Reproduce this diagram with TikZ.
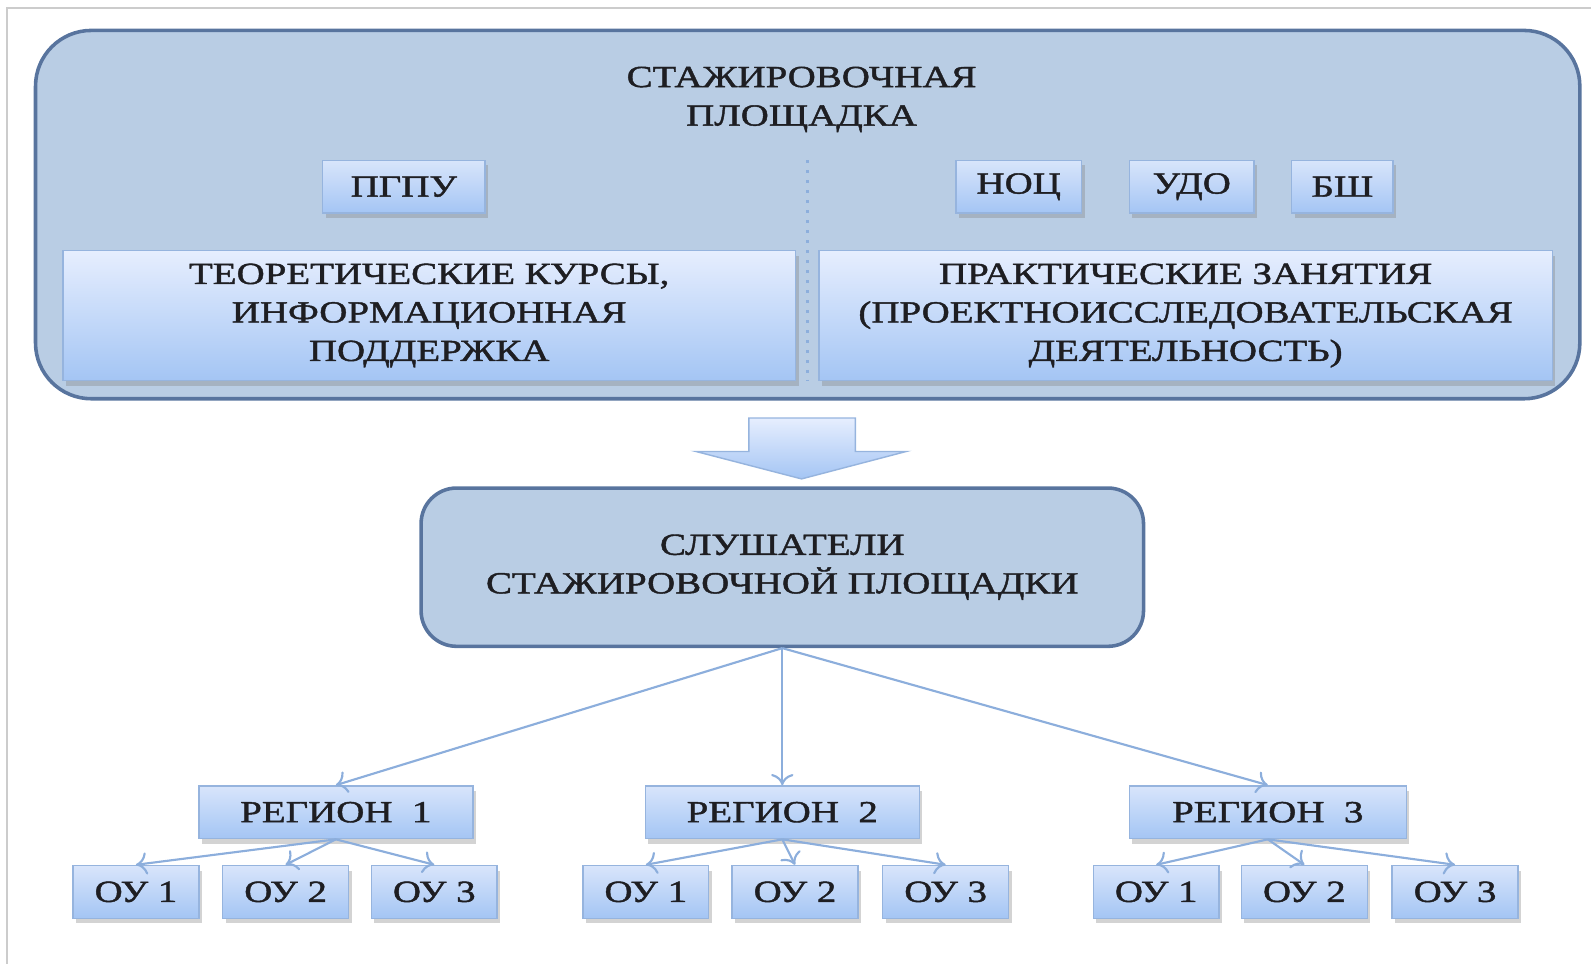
\documentclass[tikz,border=0pt]{standalone}
\usepackage{fontspec}
\setmainfont{Liberation Serif}[FakeStretch=1.27,FakeBold=1.4]
\usetikzlibrary{arrows.meta,shadows}

\begin{document}
\begin{tikzpicture}[x=.1mm,y=-.1mm,
  font=\fontsize{8.6}{10.8}\selectfont,
  smallbox/.style={draw=boxline,line width=.4pt,top color=boxtop,bottom color=boxbot,
    text=ink,minimum height=5.2mm,inner sep=0pt,
    drop shadow={shadow xshift=.3mm,shadow yshift=-.5mm,opacity=.35}},
  bigbox/.style={smallbox,top color=paletop,align=center,minimum height=12.8mm},
  roundbox/.style={draw=frameline,line width=1pt,fill=platform,rounded corners=3.5mm,
    text=ink,align=center},
  link/.style={draw=linkcol,line width=.6pt,-{To[length=1.1mm,width=2.2mm]}}]

\definecolor{platform}{RGB}{185,205,228};
\definecolor{frameline}{RGB}{88,116,158};
\definecolor{boxtop}{RGB}{216,229,251};
\definecolor{paletop}{RGB}{230,238,254};
\definecolor{boxbot}{RGB}{164,197,244};
\definecolor{boxline}{RGB}{150,180,222};
\definecolor{linkcol}{RGB}{140,174,220};
\definecolor{ink}{RGB}{30,30,34};

\useasboundingbox (0,0) rectangle (1568,950);

% page frame
\draw[gray!40,line width=.5pt] (7,950)--(7,8)--(1568,8);

% platform
\draw[frameline,line width=1pt,fill=platform,rounded corners=5.5mm] (35,30) rectangle (1557,393);
\node[text=ink,align=center] (title) at (790,98) {СТАЖИРОВОЧНАЯ\\ПЛОЩАДКА};
\draw[linkcol,dotted,line width=.8pt] (796,158)--(796,375);

\node[smallbox,minimum width=16mm] (pgpu) at (398,184) {ПГПУ};
\node[smallbox,minimum width=12.4mm] (noc) at (1004,184) {НОЦ};
\node[smallbox,minimum width=12.3mm] (udo) at (1174.5,184) {УДО};
\node[smallbox,minimum width=10mm] (bsh) at (1323,184) {БШ};

\node[bigbox,minimum width=72.2mm] (theory) at (423,311)
  {ТЕОРЕТИЧЕСКИЕ КУРСЫ,\\ИНФОРМАЦИОННАЯ\\ПОДДЕРЖКА};
\node[bigbox,minimum width=72.3mm] (practice) at (1168.5,311)
  {ПРАКТИЧЕСКИЕ ЗАНЯТИЯ\\(ПРОЕКТНОИССЛЕДОВАТЕЛЬСКАЯ\\ДЕЯТЕЛЬНОСТЬ)};

% block arrow
\shade[top color=paletop,bottom color=boxbot,draw=boxline,line width=.4pt]
  (738,412)--(843,412)--(843,445)--(893,445)--(790,472)--(686,445)--(738,445)--cycle;

\node[roundbox,minimum width=71.2mm,minimum height=15.6mm] (listeners) at (771,559)
  {СЛУШАТЕЛИ\\СТАЖИРОВОЧНОЙ ПЛОЩАДКИ};

\foreach \r/\x/\w in {1/331/27,2/771/27,3/1249.5/27.3}{
  \node[smallbox,minimum width=\w mm] (reg\r) at (\x,800.5) {РЕГИОН~~\r};
  \draw[link] (listeners.south)--(reg\r.north);
}

\foreach \r/\j/\x in {1/1/134,1/2/281.5,1/3/428,2/1/636.5,2/2/783.5,2/3/932,
                      3/1/1139.5,3/2/1285.5,3/3/1434}{
  \node[smallbox,minimum width=12.4mm] (ou\r\j) at (\x,879) {ОУ \j};
  \draw[link] (reg\r.south)--(ou\r\j.north);
}

\end{tikzpicture}
\end{document}
